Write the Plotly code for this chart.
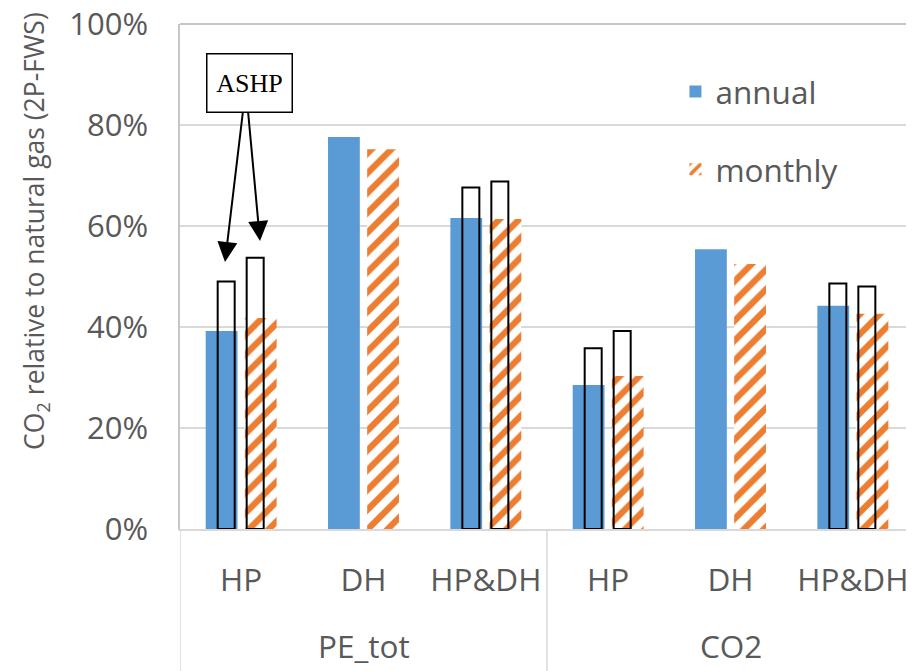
import plotly.graph_objects as go

groups = ["PE_tot", "PE_tot", "PE_tot", "CO2", "CO2", "CO2"]
cats = ["HP", "DH", "HP&DH", "HP", "DH", "HP&DH"]
annual = [0.392, 0.776, 0.616, 0.285, 0.554, 0.442]
monthly = [0.418, 0.752, 0.614, 0.303, 0.525, 0.426]
ashp_annual = [0.490, None, 0.676, 0.358, None, 0.486]
ashp_monthly = [0.537, None, 0.688, 0.392, None, 0.480]
y_ticks = [0, 0.2, 0.4, 0.6, 0.8, 1.0]

BLUE = "#5B9BD5"
ORANGE = "#ED7D31"
GREY = "#595959"
LINE = "#D9D9D9"
BORDER = "#C6C6C6"
FONT = "Open Sans"

# category positions on the axis
xpos = [i + 0.5 for i in range(len(cats))]
group_names = list(dict.fromkeys(groups))

fig = go.Figure()
fig.add_trace(go.Bar(x=xpos, y=annual, name="annual", marker=dict(color=BLUE, line=dict(width=0)),
                     width=0.26, offset=-0.29, legendgroup="a"))
fig.add_trace(go.Bar(x=xpos, y=monthly, name="monthly",
                     marker=dict(color="white", line=dict(width=0),
                                 pattern=dict(shape="/", fgcolor=ORANGE, bgcolor="white",
                                              fgopacity=1, size=14, solidity=0.45)),
                     width=0.26, offset=0.03, legendgroup="m"))
fig.add_trace(go.Bar(x=xpos, y=ashp_annual, name="ASHP annual", showlegend=False,
                     marker=dict(color="rgba(0,0,0,0)", line=dict(color="black", width=2)),
                     width=0.139, offset=-0.192))
fig.add_trace(go.Bar(x=xpos, y=ashp_monthly, name="ASHP monthly", showlegend=False,
                     marker=dict(color="rgba(0,0,0,0)", line=dict(color="black", width=2)),
                     width=0.139, offset=0.045))

fig.update_layout(
    width=906, height=663,
    margin=dict(l=172, r=0, t=16, b=142, autoexpand=False),
    barmode="overlay",
    plot_bgcolor="white", paper_bgcolor="white",
    font=dict(family=FONT, color=GREY, size=31),
    legend=dict(x=0.675, y=0.92, xanchor="left", yanchor="top",
                font=dict(family=FONT, size=31.5, color=GREY),
                tracegroupgap=34, bgcolor="rgba(0,0,0,0)"),
    showlegend=True,
)
fig.update_yaxes(range=[0, 1], tickmode="array", tickvals=y_ticks,
                 ticktext=[f"{int(round(v * 100))}%" for v in y_ticks],
                 gridcolor=LINE, gridwidth=1.5, automargin=False,
                 showline=True, linecolor=BORDER, linewidth=1.5, zeroline=False,
                 ticks="", ticklabelstandoff=24, ticklabeloverflow="allow",
                 tickfont=dict(family=FONT, size=31, color=GREY))
fig.update_xaxes(range=[0, len(cats)], tickvals=xpos, ticktext=cats, showgrid=False, zeroline=False,
                 showline=True, linecolor=LINE, linewidth=2, ticks="", ticklabelstandoff=22,
                 ticklabeloverflow="allow", automargin=False,
                 tickfont=dict(family=FONT, size=31.5, color=GREY))

# group labels and dividers
n_per = len(cats) // len(group_names)
for gi, g in enumerate(group_names):
    fig.add_annotation(text=g, xref="x", yref="paper", x=gi * n_per + n_per / 2, y=-0.231,
                       xanchor="center", yanchor="middle", showarrow=False,
                       font=dict(family=FONT, size=31.5, color=GREY))
for b in range(0, len(cats) + 1, n_per):
    fig.add_shape(type="line", xref="x", yref="paper", x0=b, x1=b, y0=0, y1=-0.3,
                  line=dict(color=LINE, width=1.5))
# plot-area top border
fig.add_shape(type="line", xref="paper", yref="paper", x0=0, x1=1, y0=1, y1=1,
              line=dict(color=BORDER, width=2))

fig.add_annotation(text="CO<sub>2</sub> relative to natural gas (2P-FWS)", textangle=-90,
                   xref="paper", yref="paper", x=(35 - 180) / 734, y=(529 - 231) / 505,
                   xanchor="center", yanchor="middle", showarrow=False,
                   font=dict(family=FONT, size=26.5, color=GREY))
fig.add_annotation(text="ASHP", xref="paper", yref="paper", x=(249 - 180) / 734, y=(529 - 82.5) / 505,
                   xanchor="center", yanchor="middle", showarrow=False,
                   font=dict(family="Liberation Serif", size=26, color="black"),
                   bordercolor="black", borderwidth=1.5, width=82, height=55, bgcolor="white")
fig.add_annotation(text="", xref="paper", yref="paper", x=(225 - 180) / 734, y=(529 - 262) / 505,
                   ax=18, ay=-151, showarrow=True, arrowhead=2, arrowsize=2, arrowwidth=2,
                   arrowcolor="black")
fig.add_annotation(text="", xref="paper", yref="paper", x=(260 - 180) / 734, y=(529 - 241) / 505,
                   ax=-12, ay=-130, showarrow=True, arrowhead=2, arrowsize=2, arrowwidth=2,
                   arrowcolor="black")

fig.write_html("out.html")
